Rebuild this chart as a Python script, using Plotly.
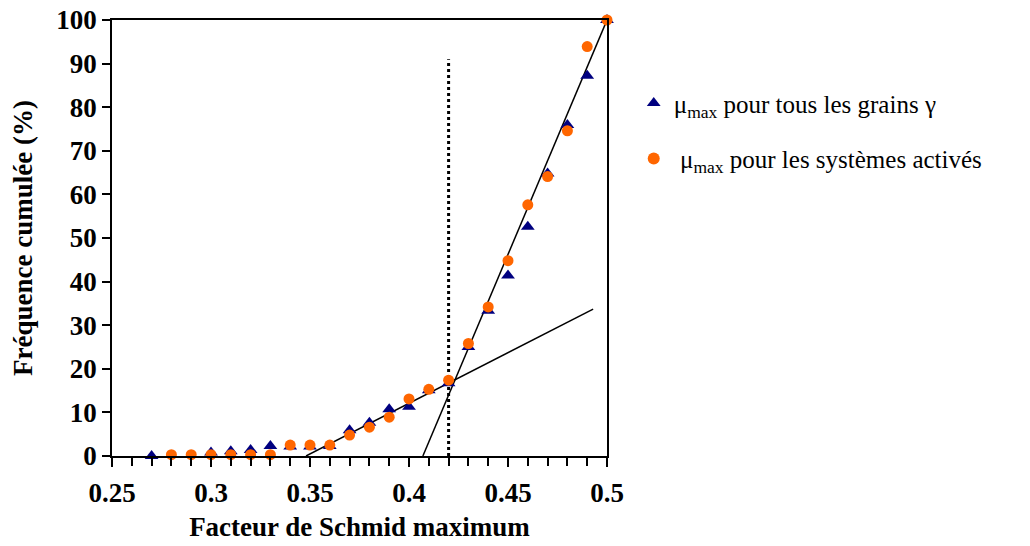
import plotly.graph_objects as go

# Data
schmid_x = [0.27, 0.28, 0.29, 0.30, 0.31, 0.32, 0.33, 0.34, 0.35, 0.36, 0.37, 0.38,
            0.39, 0.40, 0.41, 0.42, 0.43, 0.44, 0.45, 0.46, 0.47, 0.48, 0.49, 0.50]
tous_grains = [0.0, -0.3, -0.3, 0.8, 1.1, 1.4, 2.3, 2.2, 2.2, 2.3, 5.9, 7.6,
               10.7, 11.3, 15.1, 16.7, 25.0, 33.3, 41.4, 52.6, 64.8, 75.9, 87.2, 100.0]

actives_x = [0.28, 0.29, 0.30, 0.31, 0.32, 0.33, 0.34, 0.35, 0.36, 0.37, 0.38,
             0.39, 0.40, 0.41, 0.42, 0.43, 0.44, 0.45, 0.46, 0.47, 0.48, 0.49, 0.50]
systemes_actives = [0.3, 0.3, 0.3, 0.3, 0.3, 0.3, 2.5, 2.5, 2.5, 4.8, 6.6,
                    8.9, 13.1, 15.3, 17.4, 25.8, 34.2, 44.8, 57.6, 64.1, 74.6, 93.9, 100.0]

# Fit lines (endpoints)
shallow_x = [0.348, 0.493]
shallow_y = [0.0, 33.7]
steep_x = [0.407, 0.50]
steep_y = [0.0, 100.0]
cross_x = [0.42, 0.42]
cross_y = [0.0, 91.0]

x_ticks = [0.25, 0.30, 0.35, 0.40, 0.45, 0.50]
x_ticklabels = ["0.25", "0.3", "0.35", "0.4", "0.45", "0.5"]
y_ticks = [0, 10, 20, 30, 40, 50, 60, 70, 80, 90, 100]

FONT = "Liberation Serif, Times New Roman, serif"

fig = go.Figure()

fig.add_trace(go.Scatter(
    x=shallow_x, y=shallow_y, mode="lines",
    line=dict(color="black", width=1.5), showlegend=False, hoverinfo="skip",
    cliponaxis=False))
fig.add_trace(go.Scatter(
    x=steep_x, y=steep_y, mode="lines",
    line=dict(color="black", width=1.5), showlegend=False, hoverinfo="skip",
    cliponaxis=False))
fig.add_trace(go.Scatter(
    x=cross_x, y=cross_y, mode="lines",
    line=dict(color="black", width=3, dash="dot"), showlegend=False, hoverinfo="skip",
    cliponaxis=False))

fig.add_trace(go.Scatter(
    x=schmid_x, y=tous_grains, mode="markers",
    name="μ<sub>max</sub> pour tous les grains γ",
    marker=dict(symbol="triangle-up", size=12, color="#000080"),
    legendgroup="a", cliponaxis=False))
fig.add_trace(go.Scatter(
    x=actives_x, y=systemes_actives, mode="markers",
    name=" μ<sub>max</sub> pour les systèmes activés",
    marker=dict(symbol="circle", size=11, color="#FF6600"),
    legendgroup="b", cliponaxis=False))

fig.update_layout(
    width=1030, height=546,
    margin=dict(l=104, r=431, t=12, b=98, autoexpand=False),
    paper_bgcolor="white", plot_bgcolor="white",
    font=dict(family=FONT, color="black"),
    legend=dict(
        x=1.054, y=0.862, xanchor="left", yanchor="top",
        font=dict(family=FONT, size=25, color="black"),
        tracegroupgap=20, traceorder="grouped",
        bgcolor="rgba(0,0,0,0)", itemsizing="constant",
    ),
    showlegend=True,
)

fig.update_xaxes(
    range=[0.25, 0.5], tickvals=x_ticks, ticktext=x_ticklabels,
    showgrid=False, zeroline=False, automargin=False,
    showline=True, linecolor="black", linewidth=1.5, mirror=True,
    ticks="outside", ticklen=9, tickwidth=1.5, tickcolor="black",
    minor=dict(dtick=0.01, tick0=0.25, ticks="outside", ticklen=8, tickwidth=1.5, tickcolor="black"),
    tickfont=dict(family=FONT, size=27, color="black", weight="bold"),
    ticklabelstandoff=3, ticklabeloverflow="allow",
    title=dict(text="Facteur de Schmid maximum",
               font=dict(family=FONT, size=27, color="black", weight="bold"),
               standoff=10),
)
fig.update_yaxes(
    range=[0, 100], tickvals=y_ticks,
    showgrid=False, zeroline=False, automargin=False,
    showline=True, linecolor="black", linewidth=1.5, mirror=True,
    ticks="outside", ticklen=8, tickwidth=1.5, tickcolor="black",
    tickfont=dict(family=FONT, size=27, color="black", weight="bold"),
    ticklabeloverflow="allow",
    title=dict(text="Fréquence cumulée (%)",
               font=dict(family=FONT, size=27, color="black", weight="bold"),
               standoff=20),
)

fig.write_html("out.html")
